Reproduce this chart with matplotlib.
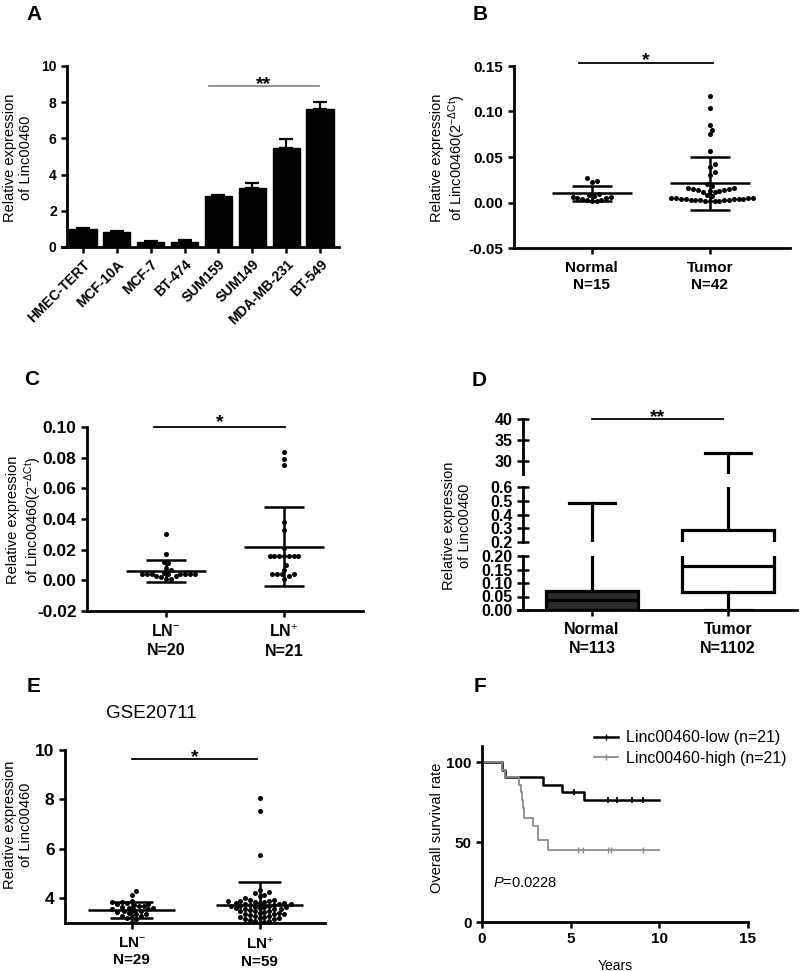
import numpy as np
import matplotlib
matplotlib.use("Agg")
import matplotlib.pyplot as plt
from matplotlib.lines import Line2D

plt.rcParams["font.family"] = ["Liberation Sans", "DejaVu Sans"]
plt.rcParams["mathtext.fontset"] = "custom"
plt.rcParams["mathtext.rm"] = "Liberation Sans"
plt.rcParams["mathtext.it"] = "Liberation Sans:italic"
plt.rcParams["mathtext.bf"] = "Liberation Sans:bold"

# ---------------- data ----------------
# A: cell lines
cell_lines = ["HMEC-TERT", "MCF-10A", "MCF-7", "BT-474", "SUM159",
              "SUM149", "MDA-MB-231", "BT-549"]
cell_expr = [1.0, 0.85, 0.3, 0.3, 2.8, 3.25, 5.45, 7.65]
cell_err = [0.05, 0.06, 0.03, 0.06, 0.1, 0.3, 0.5, 0.35]

# B: normal vs tumor (2^-dCt)
b_normal = [0.027, 0.024, 0.023, 0.009, 0.008, 0.007, 0.006, 0.006, 0.005,
            0.005, 0.004, 0.003, 0.003, 0.002, 0.002]
b_tumor = [0.117, 0.104, 0.085, 0.080, 0.075, 0.057, 0.042, 0.039, 0.034,
           0.030, 0.020, 0.018, 0.016, 0.016, 0.015, 0.015, 0.014, 0.014,
           0.013, 0.013, 0.012, 0.012, 0.008, 0.007, 0.005, 0.005, 0.005,
           0.005, 0.004, 0.004, 0.004, 0.004, 0.004, 0.003, 0.003, 0.003,
           0.003, 0.003, 0.002, 0.002, 0.002, 0.002]
b_mean = [0.010, 0.021]
b_sd = [0.008, 0.029]
b_labels = ["Normal\nN=15", "Tumor\nN=42"]

# C: LN- vs LN+
c_neg = [0.030, 0.017, 0.012, 0.011, 0.008, 0.007, 0.005, 0.004, 0.004,
         0.004, 0.004, 0.004, 0.004, 0.004, 0.004, 0.003, 0.003, 0.002,
         0.001, 0.001]
c_pos = [0.084, 0.079, 0.075, 0.038, 0.033, 0.021, 0.016, 0.016, 0.016,
         0.016, 0.016, 0.016, 0.016, 0.010, 0.007, 0.004, 0.004, 0.004,
         0.004, 0.003, 0.001]
c_mean = [0.006, 0.022]
c_sd = [0.007, 0.026]
c_labels = ["LN$^{-}$\nN=20", "LN$^{+}$\nN=21"]

# D: box plot stats (TCGA)
d_labels = ["Normal\nN=113", "Tumor\nN=1102"]
d_q1 = [0.0, 0.068]
d_med = [0.037, 0.163]
d_q3 = [0.071, 0.287]
d_low = [0.0, 0.0]
d_high = [0.486, 32.0]

# E: GSE20711
e_neg = [4.28, 4.15, 3.90, 3.86, 3.84, 3.80, 3.78, 3.75, 3.72, 3.70, 3.68,
         3.65, 3.62, 3.60, 3.57, 3.55, 3.52, 3.50, 3.47, 3.45, 3.42, 3.38,
         3.35, 3.30, 3.27, 3.24, 3.20, 3.15, 3.05]
e_pos = [8.05, 7.55, 5.75, 4.35, 4.25, 4.20, 4.15, 4.10, 4.00, 3.95, 3.92,
         3.90, 3.88, 3.87, 3.85, 3.84, 3.82, 3.80, 3.80, 3.78, 3.77, 3.75,
         3.74, 3.72, 3.70, 3.70, 3.68, 3.66, 3.65, 3.63, 3.62, 3.60, 3.58,
         3.57, 3.55, 3.53, 3.50, 3.48, 3.47, 3.45, 3.42, 3.40, 3.38, 3.36,
         3.35, 3.32, 3.30, 3.28, 3.26, 3.25, 3.22, 3.20, 3.18, 3.15, 3.12,
         3.10, 3.08, 3.05, 3.02]
e_mean = [3.52, 3.74]
e_sd = [0.32, 0.92]
e_labels = ["LN$^{-}$\nN=29", "LN$^{+}$\nN=59"]

# F: Kaplan-Meier
low_t = [0, 1.15, 1.3, 3.45, 4.5, 5.75, 10]
low_s = [100, 95.2, 90.5, 85.7, 81.0, 76.2, 76.2]
low_cens = [5.2, 7.1, 7.6, 8.45, 9.1]
high_t = [0, 1.15, 1.3, 2.1, 2.2, 2.25, 2.3, 2.38, 2.9, 3.18, 3.74, 10]
high_s = [100, 95.2, 90.5, 85.7, 81.0, 76.2, 71.4, 65.0, 60.0, 51.2, 45.0, 45.0]
high_cens = [5.4, 5.7, 7.1, 7.3, 9.1]

# ---------------- figure ----------------
W, H = 803, 971
fig = plt.figure(figsize=(W / 100, H / 100), dpi=100)

LAB_FS = 10.5


def px_axes(x0, y_top, x1, y_bot):
    return fig.add_axes([x0 / W, 1 - y_bot / H, (x1 - x0) / W, (y_bot - y_top) / H])


def style(ax, fs, direction="out"):
    for s in ["top", "right"]:
        ax.spines[s].set_visible(False)
    for s in ["left", "bottom"]:
        ax.spines[s].set_linewidth(2.0)
    ax.tick_params(width=1.8, length=4, direction=direction, labelsize=fs)


def bold_ticks(ax):
    for lab in ax.get_yticklabels() + ax.get_xticklabels():
        lab.set_fontweight("bold")


def panel_letter(x, y, s):
    fig.text(x / W, 1 - y / H, s, fontsize=15, fontweight="bold",
             ha="center", va="center")


def ylabel(x, y, s):
    fig.text(x / W, 1 - y / H, s, fontsize=LAB_FS, rotation=90,
             ha="center", va="center", multialignment="center",
             linespacing=1.1)


def swarm_x(ax, center, vals, d=4.8):
    tr = ax.transData
    ppu = tr.transform((1, 0))[0] - tr.transform((0, 0))[0]
    pts = []
    xs = np.zeros(len(vals))
    for i in np.argsort(vals):
        yp = tr.transform((center, vals[i]))[1]
        off = 0.0
        for k in range(400):
            cands = [0.0] if k == 0 else [k * d * 0.5, -k * d * 0.5]
            found = False
            for c in cands:
                if all((c - px) ** 2 + (yp - py) ** 2 >= d * d * 0.95 for px, py in pts):
                    off = c
                    found = True
                    break
            if found:
                break
        pts.append((off, yp))
        xs[i] = center + off / ppu
    return xs


def scatter_panel(ax, groups, means, sds, labels, cat_fs, mean_hw=0.34, cap_hw=0.17):
    for i, vals in enumerate(groups):
        xs = swarm_x(ax, i, vals)
        ax.scatter(xs, vals, s=13, color="black", zorder=3, linewidths=0)
        m, sd = means[i], sds[i]
        ax.hlines(m, i - mean_hw, i + mean_hw, color="black", lw=1.8, zorder=4)
        ax.hlines([m - sd, m + sd], i - cap_hw, i + cap_hw, color="black",
                  lw=1.8, zorder=4)
        ax.vlines(i, m - sd, m + sd, color="black", lw=1.8, zorder=4)
    ax.set_xticks(range(len(groups)))
    ax.set_xticklabels(labels, fontsize=cat_fs, fontweight="bold",
                       linespacing=1.3)
    ax.tick_params(axis="x", pad=5)


def sig(ax, x0, x1, y, text, color="black", off=-2):
    ax.plot([x0, x1], [y, y], color=color, lw=1.3, clip_on=False)
    ax.annotate(text, ((x0 + x1) / 2, y), xytext=(0, off),
                textcoords="offset points", ha="center", va="baseline",
                fontsize=14, fontweight="bold", annotation_clip=False)


# ---- A ----
axA = px_axes(62, 66, 339, 247)
xa = np.arange(len(cell_lines))
axA.bar(xa, cell_expr, width=0.8, color="black", edgecolor="black")
axA.errorbar(xa, cell_expr, yerr=[np.zeros(len(xa)), cell_err], fmt="none",
             ecolor="black", elinewidth=1.6, capsize=5, capthick=1.6)
axA.set_xlim(-0.62, 7.56)
axA.set_ylim(0, 10)
axA.set_yticks([0, 2, 4, 6, 8, 10])
style(axA, 10)
axA.spines["left"].set_position(("data", -0.47))
axA.set_xticks(xa)
axA.set_xticklabels(cell_lines, rotation=45, ha="right", va="top",
                    rotation_mode="anchor", fontsize=10)
bold_ticks(axA)
sig(axA, 3.72, 6.97, 8.9, "**", color="#888888")
panel_letter(34, 14, "A")
ylabel(18, 158, "Relative expression\nof Linc00460")

# ---- B ----
axB = px_axes(514, 66, 790, 248)
axB.set_xlim(-0.66, 1.68)
axB.set_ylim(-0.05, 0.15)
axB.set_yticks([-0.05, 0.0, 0.05, 0.10, 0.15])
axB.set_yticklabels(["-0.05", "0.00", "0.05", "0.10", "0.15"])
style(axB, 11)
scatter_panel(axB, [b_normal, b_tumor], b_mean, b_sd, b_labels, 11)
bold_ticks(axB)
sig(axB, -0.11, 1.03, 0.1536, "*")
panel_letter(480, 14, "B")
ylabel(449, 158, "Relative expression\nof Linc00460(2$^{-\\Delta\\mathrm{Ct}}$)")

# ---- C ----
axC = px_axes(87, 427, 363, 611)
axC.set_xlim(-0.67, 1.67)
axC.set_ylim(-0.02, 0.10)
axC.set_yticks([-0.02, 0.0, 0.02, 0.04, 0.06, 0.08, 0.10])
axC.set_yticklabels(["-0.02", "0.00", "0.02", "0.04", "0.06", "0.08", "0.10"])
style(axC, 12.5)
scatter_panel(axC, [c_neg, c_pos], c_mean, c_sd, c_labels, 11.5)
bold_ticks(axC)
sig(axC, -0.1, 1.01, 0.10, "*", off=0)
panel_letter(32, 379, "C")
ylabel(25, 520, "Relative expression\nof Linc00460(2$^{-\\Delta\\mathrm{Ct}}$)")

# ---- D (broken axis box plot) ----
stats = []
for i in range(2):
    stats.append({"q1": d_q1[i], "med": d_med[i], "q3": d_q3[i],
                  "whislo": d_low[i], "whishi": d_high[i], "fliers": []})
segs = [((419, 474), (26.9, 40), [30, 35, 40], ["30", "35", "40"]),
        ((487, 542), (0.2, 0.6), [0.2, 0.3, 0.4, 0.5, 0.6],
         ["0.2", "0.3", "0.4", "0.5", "0.6"]),
        ((556, 610), (0.0, 0.2), [0.0, 0.05, 0.10, 0.15, 0.20],
         ["0.00", "0.05", "0.10", "0.15", "0.20"])]
d_axes = []
for k, ((yt, yb), lim, ticks, tl) in enumerate(segs):
    ax = px_axes(518, yt, 797, yb)
    ax.set_xlim(-0.544, 1.507)
    ax.set_ylim(*lim)
    bp = ax.bxp(stats, positions=[0, 1], widths=0.68, capwidths=0.34,
                patch_artist=True, showfliers=False,
                boxprops=dict(linewidth=2.3, edgecolor="black"),
                whiskerprops=dict(linewidth=2.3, color="black"),
                capprops=dict(linewidth=2.3, color="black"),
                medianprops=dict(linewidth=2.3, color="black"))
    bp["boxes"][0].set_facecolor("#2b2b2b")
    bp["boxes"][1].set_facecolor("white")
    style(ax, 11.5, direction="inout")
    ax.spines["left"].set_position(("data", -0.507))
    ax.tick_params(axis="y", length=8)
    ax.set_yticks(ticks)
    ax.set_yticklabels(tl)
    if k < 2:
        ax.spines["bottom"].set_visible(False)
        ax.tick_params(axis="x", bottom=False, labelbottom=False)
    else:
        ax.set_xticks([0, 1])
        ax.set_xticklabels(d_labels, fontsize=11.5, linespacing=1.3)
        ax.tick_params(axis="x", direction="out", length=4, pad=5)
    bold_ticks(ax)
    d_axes.append(ax)
sig(d_axes[0], 0.0, 0.96, 40, "**")
panel_letter(479, 380, "D")
ylabel(457, 526, "Relative expression\nof Linc00460")

# ---- E ----
axE = px_axes(65, 750, 325, 923)
axE.set_xlim(-0.52, 1.51)
axE.set_ylim(3.0, 10)
axE.set_yticks([4, 6, 8, 10])
style(axE, 12.5)
scatter_panel(axE, [e_neg, e_pos], e_mean, e_sd, e_labels, 11)
bold_ticks(axE)
sig(axE, 0.0, 0.98, 9.64, "*")
fig.text(151 / W, 1 - 713 / H, "GSE20711", ha="center", va="center",
         fontsize=13.5)
panel_letter(34, 686, "E")
ylabel(18, 825, "Relative expression\nof Linc00460")

# ---- F ----
axF = px_axes(482, 746, 748, 922)
axF.step(low_t, low_s, where="post", color="black", lw=1.8)
axF.step(high_t, high_s, where="post", color="#8c8c8c", lw=1.3)
low_c_y = [low_s[np.searchsorted(low_t, t, side="right") - 1] for t in low_cens]
high_c_y = [high_s[np.searchsorted(high_t, t, side="right") - 1] for t in high_cens]
axF.plot(low_cens, low_c_y, ls="none", marker="|", ms=4, mew=1.3, color="black")
axF.plot(high_cens, high_c_y, ls="none", marker="|", ms=4, mew=1.0, color="#8c8c8c")
axF.set_xlim(0, 15)
axF.set_ylim(0, 110)
axF.set_xticks([0, 5, 10, 15])
axF.set_yticks([0, 50, 100])
style(axF, 11)
bold_ticks(axF)
axF.set_xlabel("Years", fontsize=10, labelpad=9)
axF.text(0.62, 24.5, "$\\mathit{P}$=0.0228", fontsize=10.5, ha="left", va="center")
handles = [Line2D([], [], color="black", lw=1.8, marker="|", ms=4),
           Line2D([], [], color="#8c8c8c", lw=1.3, marker="|", ms=4)]
fig.legend(handles, ["Linc00460-low (n=21)", "Linc00460-high (n=21)"],
           loc="upper left", bbox_to_anchor=(580 / W, 1 - 716 / H),
           frameon=False, fontsize=11.5, handlelength=1.5,
           handletextpad=0.45, labelspacing=0.35)
panel_letter(480, 686, "F")
ylabel(437, 828, "Overall survival rate")

fig.savefig("out.png", dpi=100)
